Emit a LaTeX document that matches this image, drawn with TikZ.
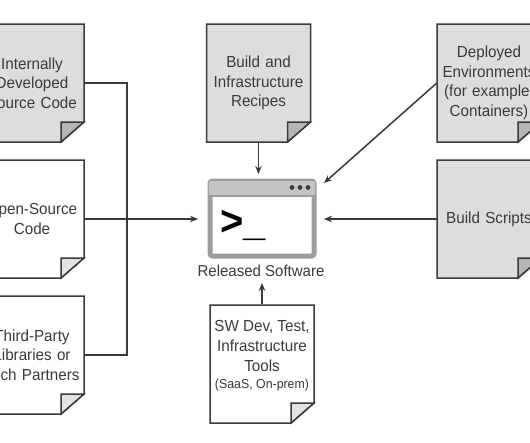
\documentclass[tikz,border=0pt]{standalone}
\usepackage{fontspec}
\setmainfont[FakeStretch=0.95]{Liberation Sans}
\usetikzlibrary{arrows.meta}
\definecolor{ink}{HTML}{3A3A3C}
\definecolor{paper}{HTML}{DCDDDF}
\definecolor{foldgray}{HTML}{B4B5B7}
\definecolor{foldlight}{HTML}{E2E3E5}
\definecolor{winedge}{HTML}{9C9D9F}
\definecolor{winbar}{HTML}{C4C5C7}
\newcommand{\pagedoc}[6]{%
  \begin{scope}[shift={(#2,#3)}]
    \draw[pageline,fill=#4] (-52,-59) -- (52,-59) -- (52,39) -- (29,59) -- (-52,59) -- cycle;
    \draw[pageline,fill=#5] (29,59) -- (29,39) -- (52,39) -- cycle;
  \end{scope}
  \node[doclabel] (#1) at (#2,#3) {#6};}
\tikzset{
  x=1pt,y=-1pt,
  pageline/.style={draw=ink,line width=1.5pt,line join=miter},
  doclabel/.style={minimum width=104pt,minimum height=120pt,inner sep=0pt,text width=104pt,align=center,text=ink,
    font=\fontsize{16}{19.7}\selectfont},
  link/.style={draw=ink,line width=1.5pt},
  arrowlink/.style={link,-{Stealth[length=8pt,width=6.5pt]}},
}
\begin{document}
\begin{tikzpicture}
\useasboundingbox (0,0) rectangle (530,442);
\clip (0,0) rectangle (530,442);
\fill[white] (0,0) rectangle (530,442);
% documents
\pagedoc{internal}{32}{83}{paper}{foldgray}{Internally\\Developed\\Source Code}
\pagedoc{open}{32}{219}{white}{foldlight}{Open-Source\\Code}
\pagedoc{third}{32}{355}{white}{foldlight}{Third-Party\\Libraries or\\Tech Partners}
\pagedoc{recipes}{258.5}{83}{paper}{foldgray}{Build and\\Infrastructure\\Recipes}
\pagedoc{deployed}{489}{83}{paper}{foldgray}{Deployed\\Environments\\(for example,\\Containers)}
\pagedoc{scripts}{489}{219}{paper}{foldgray}{Build Scripts}
\pagedoc{tools}{262}{364}{white}{foldlight}{}
\node[align=center,text=ink,font=\fontsize{16}{19.7}\selectfont,inner sep=0pt] (toolstext) at (262,346) {SW Dev, Test,\\Infrastructure\\Tools};
\node[text=ink,font=\fontsize{13}{15}\selectfont,inner sep=0pt] (toolsnote) at (262,385) {(SaaS, On-prem)};
% window
\node[draw=winedge,fill=white,line width=5pt,rounded corners=2.5pt,minimum width=104pt,minimum height=75pt,inner sep=0pt] (window) at (262,218.5) {};
\fill[winbar,rounded corners=1pt] (209,181) rectangle (315,195);
\fill[winedge] (209,195) rectangle (315,196.5);
\foreach \dx in {292,300,308} \fill[ink] (\dx,187.5) circle (2.4pt);
\node[inner sep=0pt,anchor=base west,text=black,font=\bfseries\fontsize{42}{42}\selectfont] (prompt) at (220,235) {>\_};
\node[text=ink,font=\fontsize{15.8}{18}\selectfont,inner sep=0pt] (released) at (261,270.5) {Released Software};
% free ends
\coordinate (inL) at (198,219);
\coordinate (inT) at (258.5,174);
\coordinate (inTR) at (324,183);
\coordinate (inR) at (324,219);
\coordinate (inB) at (262,283);
\draw[link] (internal.east) -- ++(43,0) |- (third.east);
\draw[arrowlink] (open.east) -- (inL);
\draw[arrowlink] (recipes.south) -- (inT);
\draw[arrowlink] (deployed.west) -- (inTR);
\draw[arrowlink] (scripts.west) -- (inR);
\draw[arrowlink] (tools.north) -- (inB);
\end{tikzpicture}
\end{document}
